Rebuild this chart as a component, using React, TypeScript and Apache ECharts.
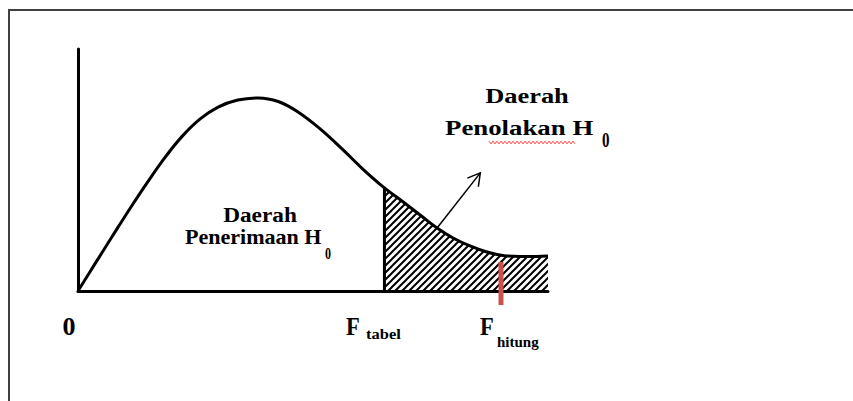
import React, { useEffect, useRef } from "react";
import * as echarts from "echarts";

// F-distribution shaped curve (x = F value, y = density)
const fValues = [0, 0.18, 0.36, 0.55, 0.74, 0.93, 1.11, 1.3, 1.49, 1.7, 1.92, 2.13, 2.34, 2.57, 2.82, 3.03, 3.26, 3.46, 3.64, 3.82, 3.99, 4.17, 4.35, 4.52, 4.7, 4.88, 5.0];
const density = [0, 0.112, 0.223, 0.339, 0.45, 0.554, 0.64, 0.711, 0.76, 0.789, 0.798, 0.783, 0.74, 0.672, 0.583, 0.504, 0.426, 0.368, 0.314, 0.26, 0.219, 0.186, 0.161, 0.147, 0.143, 0.143, 0.145];
const fTabel = 3.26;
const fTabelDensity = 0.426;
const fHitung = 4.5;
const fHitungMarkRange = [-0.058, 0.12];
const arrowFrom = [3.82, 0.26];
const arrowTo = [4.28, 0.488];
const xRange = [0, 5];
const yRange = [0, 1];

const FONT_FAMILY = "Liberation Serif";

function makeHatch(): HTMLCanvasElement {
  const s = 7;
  const c = document.createElement("canvas");
  c.width = s;
  c.height = s;
  const ctx = c.getContext("2d")!;
  ctx.strokeStyle = "#000";
  ctx.lineWidth = 2;
  ctx.beginPath();
  ctx.moveTo(-1, s + 1);
  ctx.lineTo(s + 1, -1);
  ctx.moveTo(-1, 1);
  ctx.lineTo(1, -1);
  ctx.moveTo(s - 1, s + 1);
  ctx.lineTo(s + 1, s - 1);
  ctx.stroke();
  return c;
}

function squiggle(x0: number, x1: number, y: number): number[][] {
  const pts: number[][] = [];
  let up = true;
  for (let x = x0; x <= x1; x += 2) {
    pts.push([x, up ? y - 1.3 : y + 1.3]);
    up = !up;
  }
  return pts;
}

function txt(text: string, x: number, y: number, size: number, align: string, scaleX = 1) {
  return {
    type: "text",
    x,
    y,
    scaleX,
    silent: true,
    style: {
      text,
      fontFamily: FONT_FAMILY,
      fontWeight: "bold",
      fontSize: size,
      fill: "#000",
      textAlign: align,
      textVerticalAlign: "middle",
    },
  };
}

export default function App() {
  const ref = useRef<HTMLDivElement>(null);
  useEffect(() => {
    document.body.style.margin = "0";
    const chart = echarts.init(ref.current!, null, { renderer: "svg" });
    const curve = fValues.map((x, i) => [x, density[i]]);
    const tail = curve.filter((p) => p[0] >= fTabel);
    const option: any = {
      animation: false,
      backgroundColor: "#fff",
      grid: { left: 78, top: 49, width: 470, height: 242 },
      xAxis: {
        type: "value",
        min: xRange[0],
        max: xRange[1],
        axisLine: { show: true, onZero: false, lineStyle: { color: "#000", width: 3 } },
        axisTick: { show: false },
        axisLabel: { show: false },
        splitLine: { show: false },
      },
      yAxis: {
        type: "value",
        min: yRange[0],
        max: yRange[1],
        axisLine: { show: true, onZero: false, lineStyle: { color: "#000", width: 3 } },
        axisTick: { show: false },
        axisLabel: { show: false },
        splitLine: { show: false },
      },
      series: [
        {
          type: "line",
          data: tail,
          smooth: 0.4,
          symbol: "none",
          lineStyle: { width: 0, opacity: 0 },
          areaStyle: { color: { image: makeHatch(), repeat: "repeat" }, opacity: 1 },
          z: 1,
        },
        {
          type: "line",
          data: curve,
          smooth: 0.4,
          symbol: "none",
          lineStyle: { color: "#000", width: 3 },
          z: 3,
        },
        {
          type: "line",
          data: [
            [fTabel, 0],
            [fTabel, fTabelDensity],
          ],
          symbol: "none",
          lineStyle: { color: "#000", width: 3 },
          z: 3,
        },
        {
          type: "line",
          data: [
            [fHitung, fHitungMarkRange[0]],
            [fHitung, fHitungMarkRange[1]],
          ],
          symbol: "none",
          clip: false,
          lineStyle: { color: "#c9524f", width: 5, cap: "butt" },
          z: 4,
        },
        {
          type: "custom",
          clip: false,
          silent: true,
          z: 5,
          encode: { x: [0, 2], y: [1, 3] },
          data: [[arrowFrom[0], arrowFrom[1], arrowTo[0], arrowTo[1]]],
          renderItem: (params: any, api: any) => {
            const p0 = api.coord([api.value(0), api.value(1)]);
            const p1 = api.coord([api.value(2), api.value(3)]);
            const ang = Math.atan2(p1[1] - p0[1], p1[0] - p0[0]);
            const L = 14;
            const a = Math.PI / 6;
            const w1 = [p1[0] - L * Math.cos(ang - a), p1[1] - L * Math.sin(ang - a)];
            const w2 = [p1[0] - L * Math.cos(ang + a), p1[1] - L * Math.sin(ang + a)];
            return {
              type: "group",
              children: [
                { type: "line", shape: { x1: p0[0], y1: p0[1], x2: p1[0], y2: p1[1] }, style: { stroke: "#000", lineWidth: 1.5 } },
                { type: "polyline", shape: { points: [w1, p1, w2] }, style: { stroke: "#000", lineWidth: 1.5, fill: null } },
              ],
            };
          },
        },
      ],
      graphic: [
        {
          type: "rect",
          silent: true,
          shape: { x: 9, y: 10, width: 900, height: 500 },
          style: { fill: null, stroke: "#404040", lineWidth: 2 },
        },
        txt("Daerah", 527, 95.5, 22, "center", 1.2),
        txt("Penolakan H", 445, 127.5, 22, "left", 1.22),
        txt("0", 602, 140, 20, "left", 0.75),
        {
          type: "polyline",
          silent: true,
          shape: { points: squiggle(489, 575, 142.5) },
          style: { stroke: "#ff3b3b", lineWidth: 1, fill: null },
        },
        txt("Daerah", 260, 215, 21, "center", 1.11),
        txt("Penerimaan H", 185, 237.5, 21, "left", 1.05),
        txt("0", 325, 253.5, 16, "left", 0.75),
        txt("0", 69, 326, 26, "center"),
        txt("F", 346, 326.5, 25, "left", 0.9),
        txt("tabel", 366, 334, 15, "left", 1.1),
        txt("F", 480, 326.5, 25, "left", 0.9),
        txt("hitung", 497, 341.7, 15, "left", 1.0),
      ],
    };
    chart.setOption(option);
    return () => chart.dispose();
  }, []);
  return (
    <div
      ref={ref}
      style={{ position: "fixed", left: 0, top: 0, width: 853, height: 401, background: "#fff" }}
    />
  );
}
